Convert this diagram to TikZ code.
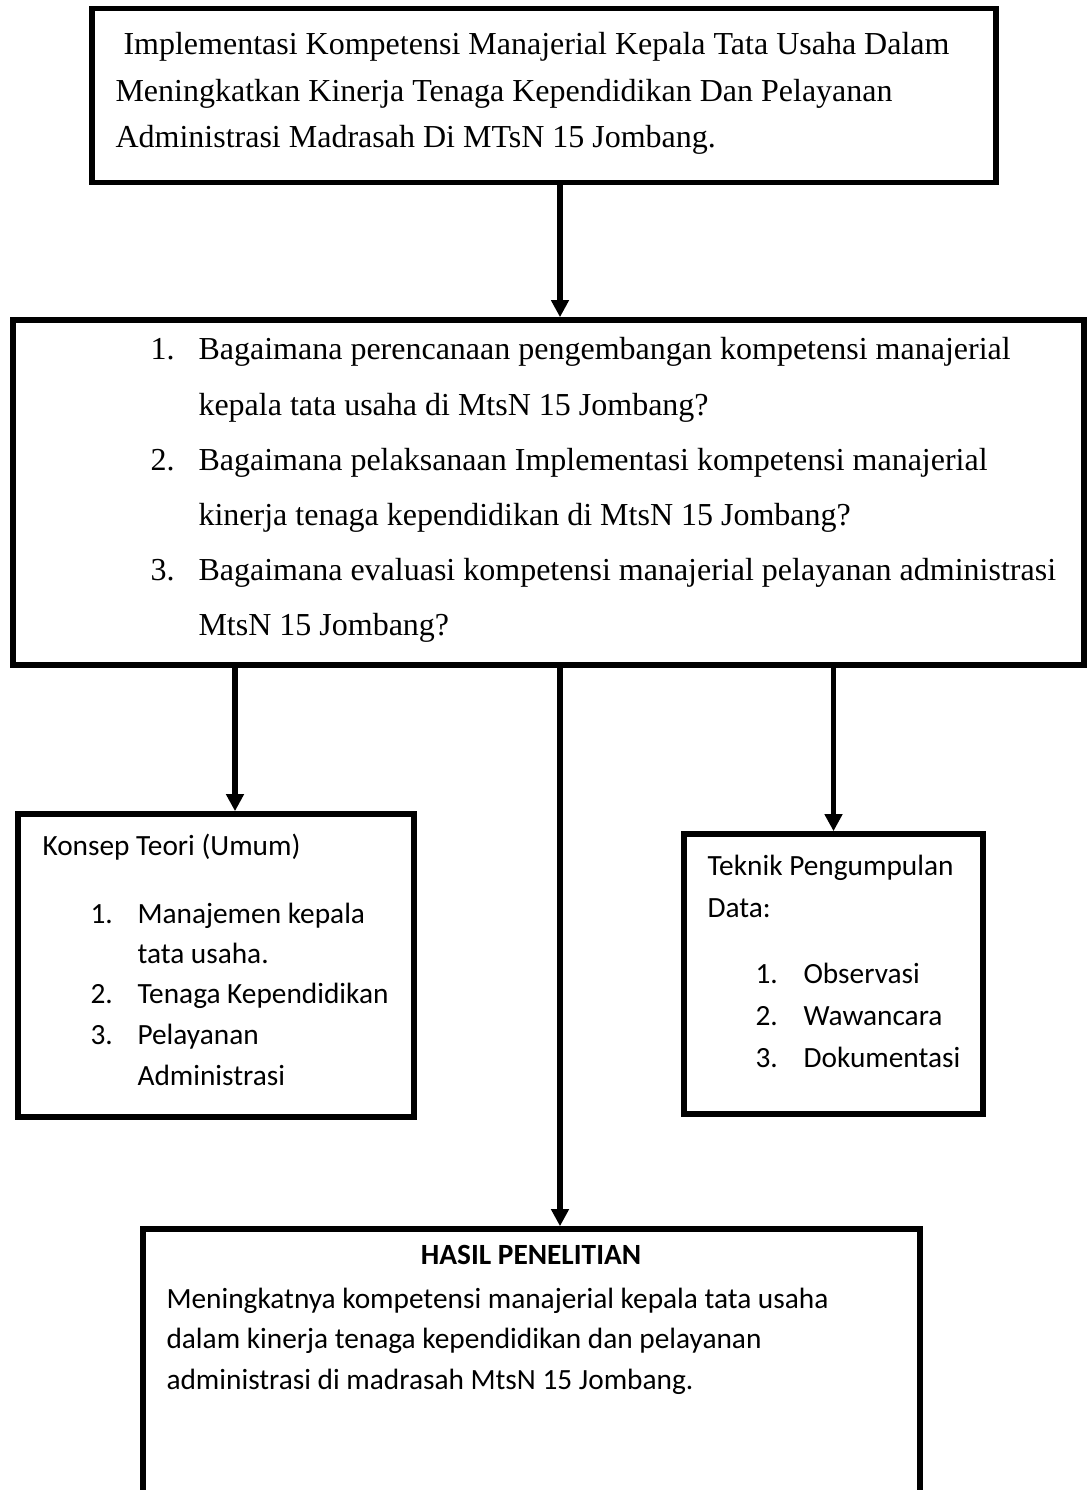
\documentclass[tikz,border=0pt]{standalone}
\usepackage{fontspec}
\setmainfont{Liberation Serif}
\newfontfamily\calibrifont{Carlito}
\usetikzlibrary{arrows.meta}
\tikzset{
  box/.style={draw, line width=2.1pt, rectangle, inner sep=0pt},
  arr/.style={line width=2pt, -{Triangle[width=6.4pt,length=6.4pt]}},
  tms/.style={anchor=base west, inner sep=0pt, font=\fontsize{12}{14}\selectfont},
  cal/.style={anchor=base west, inner sep=0pt, font=\calibrifont\fontsize{11}{13}\selectfont},
  calb/.style={anchor=base, inner sep=0pt, font=\calibrifont\bfseries\fontsize{11}{13}\selectfont},
}
\begin{document}
\begin{tikzpicture}[x=0.375pt, y=-0.375pt]
\useasboundingbox (0,0) rectangle (1087,1490);
% boxes
\node[box, minimum width={904*0.375pt}, minimum height={174*0.375pt}] (top) at (544,95.5) {};
\node[box, minimum width={1071*0.375pt}, minimum height={345*0.375pt}] (q) at (548.5,492.5) {};
\node[box, minimum width={396*0.375pt}, minimum height={303*0.375pt}] (kon) at (216,965.5) {};
\node[box, minimum width={299*0.375pt}, minimum height={280*0.375pt}] (tek) at (833.5,974) {};
\node[draw=none, rectangle, inner sep=0pt, outer sep=0pt, minimum width={777*0.375pt}, minimum height={261*0.375pt}] (hasil) at (531.5,1359.5) {};
\draw[line width=2.1pt] (hasil.south west) -- (hasil.north west) -- (hasil.north east) -- (hasil.south east);
% connector columns
\coordinate (xa) at (560,0);
\coordinate (xk) at (235,0);
\coordinate (xt) at (833.5,0);
% connectors
\draw[arr] (top.south -| xa) -- (q.north -| xa);
\draw[arr] (q.south -| xk) -- (kon.north -| xk);
\draw[arr] (q.south -| xt) -- (tek.north -| xt);
\draw[arr, shorten >=1.05pt] (q.south -| xa) -- (hasil.north -| xa);
% top text
\node[tms] (t1) at (123,55) {Implementasi Kompetensi Manajerial Kepala Tata Usaha Dalam};
\node[tms] (t2) at (115,101.5) {Meningkatkan Kinerja Tenaga Kependidikan Dan Pelayanan};
\node[tms] (t3) at (115,148) {Administrasi Madrasah Di MTsN 15 Jombang.};
% questions
\node[tms] (n1) at (150,360) {1.};
\node[tms] (q1a) at (198,360) {Bagaimana perencanaan pengembangan kompetensi manajerial};
\node[tms] (q1b) at (198,415) {kepala tata usaha di MtsN 15 Jombang?};
\node[tms] (n2) at (150,470) {2.};
\node[tms] (q2a) at (198,470) {Bagaimana pelaksanaan Implementasi kompetensi manajerial};
\node[tms] (q2b) at (198,525) {kinerja tenaga kependidikan di MtsN 15 Jombang?};
\node[tms] (n3) at (150,580) {3.};
\node[tms] (q3a) at (198,580) {Bagaimana evaluasi kompetensi manajerial pelayanan administrasi};
\node[tms] (q3b) at (198,635) {MtsN 15 Jombang?};
% konsep
\node[cal] (k0) at (42,855) {Konsep Teori (Umum)};
\node[cal] (kn1) at (90,923) {1.};
\node[cal] (k1a) at (137,923) {Manajemen kepala};
\node[cal] (k1b) at (137,963) {tata usaha.};
\node[cal] (kn2) at (90,1003) {2.};
\node[cal] (k2) at (137,1003) {Tenaga Kependidikan};
\node[cal] (kn3) at (90,1044) {3.};
\node[cal] (k3a) at (137,1044) {Pelayanan};
\node[cal] (k3b) at (137,1085) {Administrasi};
% teknik
\node[cal] (d0) at (707,875) {Teknik Pengumpulan};
\node[cal] (d1) at (707,917) {Data:};
\node[cal] (dn1) at (755,983) {1.};
\node[cal] (dd1) at (803,983) {Observasi};
\node[cal] (dn2) at (755,1025) {2.};
\node[cal] (dd2) at (803,1025) {Wawancara};
\node[cal] (dn3) at (755,1067) {3.};
\node[cal] (dd3) at (803,1067) {Dokumentasi};
% hasil
\node[calb] (h0) at (531,1264) {HASIL PENELITIAN};
\node[cal] (h1) at (166,1308) {Meningkatnya kompetensi manajerial kepala tata usaha};
\node[cal] (h2) at (166,1348.5) {dalam kinerja tenaga kependidikan dan pelayanan};
\node[cal] (h3) at (166,1389) {administrasi di madrasah MtsN 15 Jombang.};
\end{tikzpicture}
\end{document}
